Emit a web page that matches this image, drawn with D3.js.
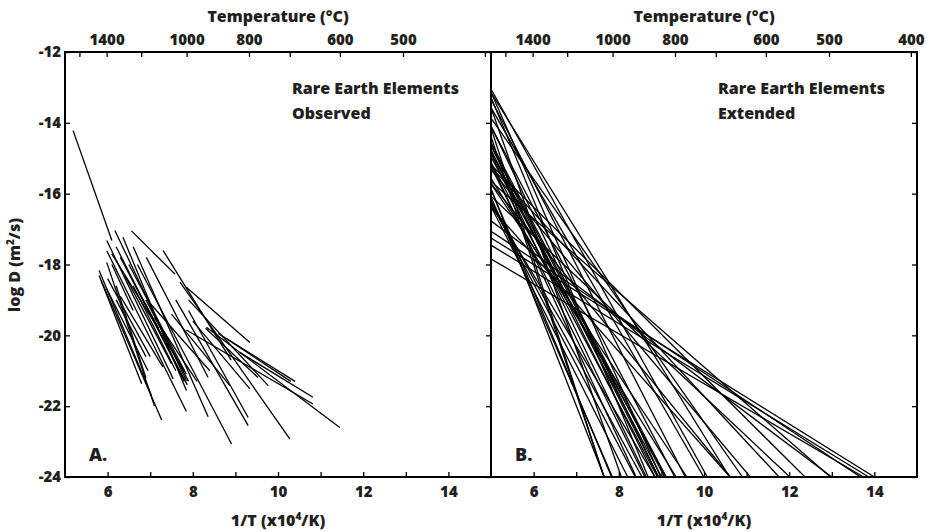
<!DOCTYPE html>
<html>
<head>
<meta charset="utf-8">
<script src="https://cdn.jsdelivr.net/npm/d3@7"></script>
<style>
  body { margin: 0; background: #fff; }
  text { font-family: "Open Sans", "DejaVu Sans", sans-serif; font-weight: 800; fill: #231f20; }
</style>
</head>
<body>
<svg id="chart" width="927" height="532"></svg>
<script>
// Observed Arrhenius segments for the rare earth elements:
// start and end of each measured range (1/T in 10^4/K, log D in m^2/s)
const invT0 = [5.19, 5.80, 5.80, 5.85, 5.98, 5.98, 6.17, 6.36, 5.98, 5.98,
               6.10, 6.91, 6.60, 6.70, 6.56, 7.30, 7.85, 9.10, 8.32, 7.85,
               7.70, 7.90, 8.30, 7.90, 7.60, 8.00, 7.50, 6.20, 6.30, 6.50,
               6.40, 6.00, 6.60, 6.90, 6.20, 6.10, 6.70, 7.10, 8.80, 6.20,
               8.60, 7.00, 6.30];
const logD0 = [-14.22, -18.17, -18.31, -18.45, -18.69, -17.94, -17.04, -17.23, -17.32, -17.61,
               -17.70, -17.80, -17.50, -18.00, -17.05, -17.60, -18.64, -20.48, -19.77, -19.85,
               -18.50, -19.00, -19.80, -19.30, -19.00, -19.60, -19.40, -17.50, -17.80, -18.00,
               -18.30, -18.40, -18.60, -19.00, -19.00, -18.00, -18.70, -19.50, -20.10, -18.60,
               -19.95, -19.10, -18.90];
const invT1 = [6.10, 7.03, 6.80, 7.27, 6.95, 7.10, 7.85, 7.85, 7.54, 7.85,
               7.80, 8.36, 8.36, 8.91, 7.58, 8.90, 9.34, 10.82, 11.45, 10.82,
               10.28, 9.77, 9.53, 9.30, 9.30, 9.34, 8.87, 7.80, 7.87, 7.85,
               7.50, 7.00, 7.60, 7.90, 6.90, 6.60, 7.20, 8.10, 10.30, 6.90,
               10.40, 8.40, 7.30];
const logD1 = [-17.32, -21.70, -21.37, -22.39, -21.00, -22.00, -21.28, -21.56, -21.23, -22.15,
               -21.00, -21.19, -22.30, -23.07, -18.27, -20.70, -20.20, -21.75, -22.60, -21.94,
               -22.93, -21.42, -21.19, -22.32, -22.55, -21.51, -21.42, -21.30, -21.40, -21.10,
               -20.80, -20.60, -21.00, -21.30, -20.60, -19.30, -19.80, -21.30, -21.30, -21.20,
               -21.30, -21.00, -20.90];

// Axis ticks
const invTTicks = [6, 7, 8, 9, 10, 11, 12, 13, 14];
const invTLabels = [6, 8, 10, 12, 14];
const logDTicks = [-12, -14, -16, -18, -20, -22, -24];
const tempTicks = [1600, 1400, 1200, 1000, 800, 700, 600, 500, 400];
const tempLabelsA = [1400, 1000, 800, 600, 500];
const tempLabelsB = [1400, 1000, 800, 600, 500, 400];

const xDomain = [5, 15];
const yDomain = [-24, -12];

const svg = d3.select("#chart");
const plotTop = 52, plotBottom = 477;
const panels = [
  { id: "A", left: 65, right: 491, title: ["Rare Earth Elements", "Observed"], tempLabels: tempLabelsA, extend: false },
  { id: "B", left: 491, right: 917, title: ["Rare Earth Elements", "Extended"], tempLabels: tempLabelsB, extend: true }
];

const segs = invT0.map((x0, i) => ({ x0, y0: logD0[i], x1: invT1[i], y1: logD1[i] }));

panels.forEach(p => {
  const x = d3.scaleLinear().domain(xDomain).range([p.left, p.right]);
  const y = d3.scaleLinear().domain(yDomain).range([plotBottom, plotTop]);
  const g = svg.append("g");

  g.append("clipPath").attr("id", "clip" + p.id)
    .append("rect").attr("x", p.left).attr("y", plotTop)
    .attr("width", p.right - p.left).attr("height", plotBottom - plotTop);

  // panel B carries each Arrhenius line from 1/T = 5 down to log D = -24
  const lineGen = d3.line().x(d => x(d[0])).y(d => y(d[1]));
  const data = segs.map(s => {
    if (!p.extend) return [[s.x0, s.y0], [s.x1, s.y1]];
    const m = (s.y1 - s.y0) / (s.x1 - s.x0);
    const yStart = s.y0 + m * (xDomain[0] - s.x0);
    const xEnd = s.x0 + (yDomain[0] - s.y0) / m;
    return [[xDomain[0], yStart], [xEnd, yDomain[0]]];
  });

  g.append("g").attr("clip-path", `url(#clip${p.id})`)
    .selectAll("path").data(data).join("path")
    .attr("d", lineGen)
    .attr("fill", "none").attr("stroke", "#000").attr("stroke-width", 1.3);

  // bottom axis: 1/T
  const xAxis = d3.axisBottom(x).tickValues(invTTicks)
    .tickSizeInner(-5).tickSizeOuter(0).tickPadding(9)
    .tickFormat(d => invTLabels.includes(d) ? d : "");
  const gx = g.append("g").attr("transform", `translate(0,${plotBottom})`).call(xAxis);
  gx.select(".domain").remove();
  gx.selectAll("text").attr("font-size", 15).attr("font-family", null);

  // top axis: temperature in degrees C
  const tAxis = d3.axisTop(x).tickValues(tempTicks.map(t => 1e4 / (t + 273.15)))
    .tickSizeInner(-5).tickSizeOuter(0).tickPadding(7)
    .tickFormat((d, i) => p.tempLabels.includes(tempTicks[i]) ? tempTicks[i] : "");
  const gt = g.append("g").attr("transform", `translate(0,${plotTop})`).call(tAxis);
  gt.select(".domain").remove();
  gt.selectAll("text").attr("font-size", 15).attr("font-family", null);

  // right-side ticks (inward)
  const yR = d3.axisRight(y).tickValues(logDTicks).tickSizeInner(-5).tickSizeOuter(0).tickFormat("");
  const gr = g.append("g").attr("transform", `translate(${p.right},0)`).call(yR);
  gr.select(".domain").remove();

  if (p.id === "A") {
    const yL = d3.axisLeft(y).tickValues(logDTicks).tickSizeInner(-5).tickSizeOuter(0).tickPadding(4)
      .tickFormat(d => d);
    const gl = g.append("g").attr("transform", `translate(${p.left},0)`).call(yL);
    gl.select(".domain").remove();
    gl.selectAll("text").attr("font-size", 15).attr("font-family", null);
  }
  g.selectAll(".tick line").attr("stroke", "#000").attr("stroke-width", 1.3);

  // frame
  g.append("rect").attr("x", p.left).attr("y", plotTop)
    .attr("width", p.right - p.left).attr("height", plotBottom - plotTop)
    .attr("fill", "none").attr("stroke", "#000").attr("stroke-width", 2);

  const cx = (p.left + p.right) / 2;
  g.append("text").attr("x", cx).attr("y", 22).attr("text-anchor", "middle")
    .attr("font-size", 16).text("Temperature (°C)");

  const xt = g.append("text").attr("x", cx).attr("y", 526).attr("text-anchor", "middle")
    .attr("font-size", 16);
  xt.append("tspan").text("1/T (x10");
  xt.append("tspan").attr("dy", -6).attr("font-size", 10).text("4");
  xt.append("tspan").attr("dy", 6).text("/K)");

  g.append("text").attr("x", p.left + 24).attr("y", 461).attr("font-size", 18).text(p.id + ".");

  g.selectAll(null).data(p.title).join("text")
    .attr("x", p.left + 227).attr("y", (d, i) => 94 + i * 25)
    .attr("font-size", 16).text(d => d);
});

// shared y-axis title
const yt = svg.append("text").attr("transform", "translate(20,265) rotate(-90)")
  .attr("text-anchor", "middle").attr("font-size", 16);
yt.append("tspan").text("log D (m");
yt.append("tspan").attr("dy", -6).attr("font-size", 10).text("2");
yt.append("tspan").attr("dy", 6).text("/s)");
</script>
</body>
</html>
